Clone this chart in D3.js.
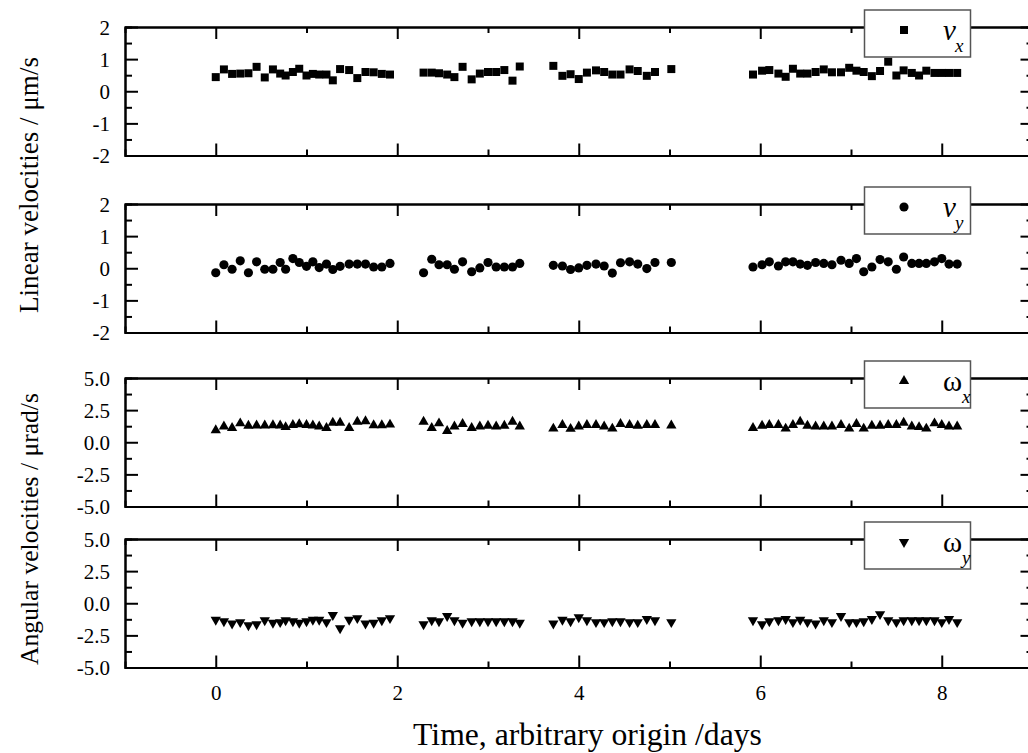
<!DOCTYPE html>
<html><head><meta charset="utf-8">
<script src="https://cdn.jsdelivr.net/npm/d3@7"></script>
<style>html,body{margin:0;padding:0;background:#fff;}svg{display:block;}</style>
</head><body>
<svg id="chart" width="1028" height="753"></svg>
<script>
// ---- data ----
const times = [
  0.00,0.09,0.18,0.27,0.36,0.45,0.54,0.63,0.71,0.77,0.85,0.92,1.00,1.07,1.14,1.22,1.29,1.37,1.47,1.56,1.65,1.74,1.83,1.92,
  2.29,2.38,2.46,2.55,2.63,2.72,2.82,2.91,3.00,3.09,3.18,3.27,3.35,
  3.72,3.82,3.91,4.00,4.09,4.19,4.28,4.37,4.46,4.56,4.65,4.75,4.84,5.02,
  5.92,6.02,6.10,6.20,6.28,6.36,6.44,6.52,6.61,6.70,6.79,6.89,6.98,7.06,7.14,7.23,7.32,7.41,7.50,7.58,7.67,7.75,7.83,7.92,8.00,8.08,8.17
];
const vx = [
  0.44,0.68,0.54,0.55,0.56,0.76,0.43,0.68,0.55,0.49,0.60,0.70,0.49,0.54,0.52,0.52,0.34,0.69,0.66,0.41,0.60,0.59,0.54,0.52,
  0.58,0.58,0.56,0.52,0.44,0.76,0.37,0.55,0.60,0.60,0.66,0.33,0.77,
  0.79,0.48,0.53,0.38,0.58,0.65,0.60,0.52,0.52,0.68,0.63,0.48,0.60,0.69,
  0.52,0.64,0.66,0.55,0.45,0.70,0.55,0.55,0.60,0.68,0.59,0.59,0.73,0.64,0.60,0.47,0.63,0.92,0.49,0.65,0.57,0.49,0.64,0.57,0.57,0.57,0.57
];
const vy = [
  -0.14,0.11,-0.03,0.23,-0.14,0.20,-0.03,-0.03,0.18,-0.03,0.30,0.18,0.06,0.20,0.02,0.13,-0.04,0.06,0.13,0.13,0.13,0.04,0.04,0.15,
  -0.14,0.28,0.11,0.11,-0.03,0.20,-0.11,0.01,0.18,0.04,0.04,0.04,0.15,
  0.09,0.07,-0.04,0.01,0.09,0.13,0.07,-0.15,0.17,0.20,0.13,-0.01,0.18,0.18,
  0.04,0.11,0.20,0.07,0.20,0.20,0.13,0.09,0.18,0.15,0.11,0.25,0.15,0.30,-0.11,0.04,0.27,0.20,-0.03,0.35,0.15,0.15,0.15,0.20,0.30,0.13,0.13
];
const wx = [
  0.94,1.23,1.11,1.47,1.28,1.30,1.30,1.32,1.30,1.18,1.35,1.40,1.35,1.30,1.23,1.11,1.52,1.52,1.11,1.59,1.64,1.32,1.32,1.37,
  1.59,1.11,1.47,0.87,1.23,1.42,1.11,1.23,1.28,1.23,1.28,1.59,1.23,
  1.06,1.35,1.04,1.23,1.35,1.35,1.23,1.06,1.42,1.35,1.28,1.35,1.35,1.30,
  1.11,1.28,1.35,1.35,1.06,1.35,1.59,1.28,1.23,1.23,1.23,1.35,1.06,1.42,1.06,1.28,1.28,1.35,1.35,1.52,1.23,1.18,1.06,1.47,1.35,1.23,1.23
];
const wy = [
  -1.28,-1.40,-1.57,-1.47,-1.71,-1.64,-1.33,-1.52,-1.47,-1.33,-1.40,-1.52,-1.40,-1.28,-1.28,-1.47,-0.92,-1.95,-1.28,-1.16,-1.57,-1.52,-1.33,-1.16,
  -1.64,-1.33,-1.40,-0.99,-1.33,-1.52,-1.40,-1.40,-1.40,-1.40,-1.40,-1.40,-1.52,
  -1.57,-1.28,-1.40,-1.09,-1.33,-1.47,-1.47,-1.40,-1.40,-1.47,-1.47,-1.23,-1.33,-1.47,
  -1.33,-1.64,-1.40,-1.33,-1.23,-1.47,-1.28,-1.47,-1.57,-1.33,-1.47,-0.99,-1.47,-1.47,-1.40,-1.23,-0.85,-1.33,-1.47,-1.33,-1.33,-1.33,-1.33,-1.33,-1.47,-1.23,-1.47
];
const xMajorTicks = [0, 2, 4, 6, 8];
const xMinorTicks = [1, 3, 5, 7];
const linTicks = [-2, -1, 0, 1, 2];
const linMinor = [-1.5, -0.5, 0.5, 1.5];
const angTicks = [-5, -2.5, 0, 2.5, 5];
const angMinor = [-3.75, -1.25, 1.25, 3.75];
const seriesNames = ["v", "v", "\u03C9", "\u03C9"];
const seriesSubs = ["x", "y", "x", "y"];
const xTitle = "Time, arbitrary origin /days";
const yTitleLinear = "Linear velocities / \u03BCm/s";
const yTitleAngular = "Angular velocities / \u03BCrad/s";

// ---- layout ----
const FONT = "'Liberation Serif', 'Times New Roman', serif";
const TICKFS = 21;
const svg = d3.select("#chart");
const left = 125, right = 1032.5;
const x = d3.scaleLinear().domain([-1, 9]).range([left, right]);
const panelTops = [27, 204, 378, 539];
const panelH = 128.5;

const panels = [
  {vals: vx, dom: [-2, 2], ticks: linTicks, minor: linMinor, fmt: d => String(d), sym: d3.symbolSquare, size: 64, rot: 0, italic: true},
  {vals: vy, dom: [-2, 2], ticks: linTicks, minor: linMinor, fmt: d => String(d), sym: d3.symbolCircle, size: 66, rot: 0, italic: true},
  {vals: wx, dom: [-5, 5], ticks: angTicks, minor: angMinor, fmt: d => d.toFixed(1), sym: d3.symbolTriangle, size: 46, rot: 0, italic: false},
  {vals: wy, dom: [-5, 5], ticks: angTicks, minor: angMinor, fmt: d => d.toFixed(1), sym: d3.symbolTriangle, size: 46, rot: 180, italic: false}
];

function styleAxis(g) {
  g.attr("font-size", TICKFS).attr("font-family", FONT);
  g.selectAll("path.domain").attr("stroke", "#000").attr("stroke-width", 2);
  g.selectAll(".tick line").attr("stroke", "#000").attr("stroke-width", 2);
  g.selectAll(".tick text").attr("font-family", FONT).attr("font-size", TICKFS).attr("fill", "#000");
}

panels.forEach((p, i) => {
  const top = panelTops[i], bot = top + panelH;
  const y = d3.scaleLinear().domain(p.dom).range([bot, top]);
  const g = svg.append("g");

  // data markers
  const sym = d3.symbol().type(p.sym).size(p.size);
  g.append("g").selectAll("path").data(times.map((t, k) => [t, p.vals[k]]))
    .join("path")
    .attr("d", sym)
    .attr("fill", "#000")
    .attr("transform", d => `translate(${x(d[0])},${y(d[1])}) rotate(${p.rot})`);

  // minor ticks
  g.append("g").attr("transform", `translate(0,${bot})`)
    .call(d3.axisBottom(x).tickValues(xMinorTicks).tickSize(-6).tickFormat("")).call(styleAxis);
  g.append("g").attr("transform", `translate(0,${top})`)
    .call(d3.axisTop(x).tickValues(xMinorTicks).tickSize(-6).tickFormat("")).call(styleAxis);
  g.append("g").attr("transform", `translate(${left},0)`)
    .call(d3.axisLeft(y).tickValues(p.minor).tickSize(-7).tickFormat("")).call(styleAxis);
  g.append("g").attr("transform", `translate(${right},0)`)
    .call(d3.axisRight(y).tickValues(p.minor).tickSize(-6).tickFormat("")).call(styleAxis);

  // major ticks
  const xb = d3.axisBottom(x).tickValues(xMajorTicks).tickSizeInner(-12).tickSizeOuter(0)
    .tickFormat(i < 3 ? "" : d => String(d));
  const xbG = g.append("g").attr("transform", `translate(0,${bot})`).call(xb).call(styleAxis);
  xbG.selectAll(".tick text").attr("y", 18).attr("dy", "0.71em");
  g.append("g").attr("transform", `translate(0,${top})`)
    .call(d3.axisTop(x).tickValues(xMajorTicks).tickSizeInner(-12).tickSizeOuter(0).tickFormat("")).call(styleAxis);
  const ylG = g.append("g").attr("transform", `translate(${left},0)`)
    .call(d3.axisLeft(y).tickValues(p.ticks).tickSizeInner(-13).tickSizeOuter(0).tickFormat(p.fmt)).call(styleAxis);
  ylG.selectAll(".tick text").attr("x", -15).attr("dy", "0.34em");
  g.append("g").attr("transform", `translate(${right},0)`)
    .call(d3.axisRight(y).tickValues(p.ticks).tickSizeInner(-12).tickSizeOuter(0).tickFormat("")).call(styleAxis);

  // legend
  const lg = g.append("g");
  lg.append("rect").attr("x", 864.5).attr("y", top - 17).attr("width", 106).attr("height", 47)
    .attr("fill", "#fff").attr("stroke", "#555").attr("stroke-width", 1.5);
  lg.append("path").attr("d", sym).attr("fill", "#000")
    .attr("transform", `translate(904,${top + 3}) rotate(${p.rot})`);
  const t = lg.append("text").attr("x", 943).attr("y", top + 13)
    .attr("font-family", FONT).attr("fill", "#000");
  t.append("tspan").attr("font-size", 29).attr("font-style", p.italic ? "italic" : "normal").text(seriesNames[i]);
  t.append("tspan").attr("font-size", 19).attr("font-style", "italic").attr("dy", 12).attr("dx", p.italic ? -1 : 0).text(seriesSubs[i]);
});

function fit(sel, target) {
  const w = sel.node().getComputedTextLength();
  sel.attr("font-size", parseFloat(sel.attr("font-size")) * target / w);
}

const xt = svg.append("text").attr("x", 587.5).attr("y", 745).attr("text-anchor", "middle")
  .attr("font-family", FONT).attr("font-size", 26).attr("fill", "#000").text(xTitle);
fit(xt, 349);

const yt1 = svg.append("text").attr("transform", "translate(38,185) rotate(-90)").attr("text-anchor", "middle")
  .attr("font-family", FONT).attr("font-size", 24).attr("fill", "#000").text(yTitleLinear);
fit(yt1, 256);
const yt2 = svg.append("text").attr("transform", "translate(38,529) rotate(-90)").attr("text-anchor", "middle")
  .attr("font-family", FONT).attr("font-size", 24).attr("fill", "#000").text(yTitleAngular);
fit(yt2, 272);
</script>
</body></html>
